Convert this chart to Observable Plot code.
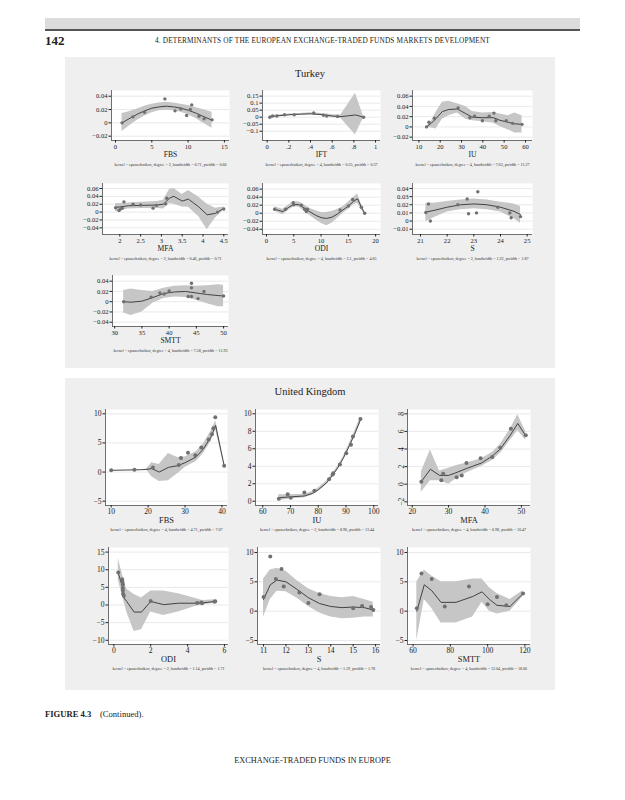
<!DOCTYPE html>
<html>
<head>
<meta charset="utf-8">
<script src="https://cdn.jsdelivr.net/npm/d3@7"></script>
<script src="https://cdn.jsdelivr.net/npm/@observablehq/plot@0.6"></script>
<style>
  html, body { margin: 0; padding: 0; background: #fff; }
  #page { position: relative; width: 625px; height: 800px; overflow: hidden; font-family: "Liberation Serif", "DejaVu Serif", serif; color: #222; }
  .abs { position: absolute; }
  .bg { position: absolute; background: #efefef; }
</style>
</head>
<body>
<div id="page">
  <div class="abs" style="left:45px;top:18px;width:535px;height:11px;background:#dcdcdc"></div>
  <div class="abs" style="left:45px;top:29px;width:535px;height:2px;background:#555"></div>
  <div class="abs" style="left:45px;top:33px;font-size:13px;font-weight:bold;">142</div>
  <div class="abs" style="left:0;width:625px;top:36px;text-align:center;font-size:7.3px;letter-spacing:0.15px;padding-left:10px;">4. DETERMINANTS OF THE EUROPEAN EXCHANGE-TRADED FUNDS MARKETS DEVELOPMENT</div>
  <div class="bg" style="left:65px;top:57px;width:490px;height:311px;"></div>
  <div class="abs" style="left:65px;width:490px;top:68px;text-align:center;font-size:10.5px;">Turkey</div>
  <div class="bg" style="left:65px;top:378px;width:490px;height:312px;"></div>
  <div class="abs" style="left:65px;width:490px;top:386px;text-align:center;font-size:10.5px;">United Kingdom</div>
  <div class="abs" style="left:45px;top:709px;font-size:8.6px;"><b>FIGURE 4.3</b>&nbsp;&nbsp;&nbsp;&nbsp;(Continued).</div>
  <div class="abs" style="left:0;width:625px;top:756px;text-align:center;font-size:8.3px;">EXCHANGE-TRADED FUNDS IN EUROPE</div>
</div>
<script>
// ---------- Turkey ----------
const tFbsPx = [0.9, 2.4, 4.0, 6.8, 8.2, 9.0, 9.8, 10.3, 10.5, 11.5, 12.2, 13.3];
const tFbsPy = [0.000, 0.009, 0.016, 0.036, 0.018, 0.021, 0.011, 0.020, 0.027, 0.010, 0.006, 0.0045];
const tFbsFx = [0.9, 2, 3, 4, 5, 6, 7, 8, 9, 10, 11, 12, 13.3];
const tFbsFit = [0.000, 0.007, 0.013, 0.018, 0.022, 0.024, 0.025, 0.024, 0.022, 0.019, 0.015, 0.010, 0.004];
const tFbsLo = [-0.013, -0.004, 0.004, 0.010, 0.015, 0.018, 0.019, 0.018, 0.016, 0.012, 0.007, 0.000, -0.008];
const tFbsHi = [0.014, 0.017, 0.021, 0.025, 0.028, 0.030, 0.031, 0.030, 0.028, 0.026, 0.023, 0.020, 0.016];

const tIftPx = [0.025, 0.05, 0.09, 0.16, 0.25, 0.43, 0.52, 0.55, 0.65, 0.89];
const tIftPy = [0.000, 0.008, 0.008, 0.017, 0.017, 0.030, 0.014, 0.008, 0.005, 0.000];
const tIftFx = [0.025, 0.1, 0.2, 0.3, 0.4, 0.5, 0.6, 0.68, 0.75, 0.815, 0.89];
const tIftFit = [0.003, 0.010, 0.017, 0.021, 0.024, 0.019, 0.008, 0.004, 0.010, 0.016, 0.000];
const tIftLo = [-0.005, 0.004, 0.011, 0.015, 0.017, 0.011, -0.002, -0.008, -0.069, -0.125, -0.004];
const tIftHi = [0.011, 0.016, 0.023, 0.027, 0.031, 0.027, 0.018, 0.016, 0.095, 0.170, 0.004];

const tIuPx = [13.6, 14.7, 17.3, 28.4, 33.9, 36.1, 39.8, 43.0, 45.2, 46.1, 51.0, 54.0, 58.4];
const tIuPy = [0.000, 0.009, 0.017, 0.037, 0.018, 0.021, 0.012, 0.021, 0.027, 0.012, 0.012, 0.007, 0.005];
const tIuFx = [13.6, 16, 18, 21, 24, 28, 32, 35, 40, 45, 48, 52, 55, 58.4];
const tIuFit = [0.000, 0.008, 0.016, 0.030, 0.034, 0.035, 0.026, 0.019, 0.018, 0.018, 0.013, 0.009, 0.006, 0.005];
const tIuLo = [0.000, -0.002, -0.004, 0.015, 0.022, 0.027, 0.015, 0.012, 0.010, 0.007, 0.001, -0.006, -0.012, -0.012];
const tIuHi = [0.000, 0.012, 0.028, 0.048, 0.050, 0.045, 0.040, 0.030, 0.027, 0.028, 0.025, 0.022, 0.027, 0.022];

const tMfaPx = [1.9, 1.98, 2.02, 2.06, 2.1, 2.32, 2.5, 2.8, 2.88, 3.1, 3.13, 4.35, 4.5];
const tMfaPy = [0.011, 0.004, 0.008, 0.010, 0.026, 0.020, 0.018, 0.010, 0.017, 0.021, 0.035, 0.000, 0.008];
const tMfaFx = [1.9, 2.0, 2.2, 2.5, 2.9, 3.05, 3.2, 3.3, 3.5, 3.65, 3.9, 4.1, 4.3, 4.5];
const tMfaFit = [0.012, 0.013, 0.016, 0.017, 0.018, 0.020, 0.036, 0.040, 0.028, 0.033, 0.013, -0.007, -0.003, 0.009];
const tMfaLo = [0.000, 0.004, 0.008, 0.009, 0.009, 0.008, 0.022, 0.020, 0.013, 0.012, -0.012, -0.045, -0.015, 0.005];
const tMfaHi = [0.022, 0.022, 0.023, 0.025, 0.027, 0.030, 0.058, 0.060, 0.045, 0.055, 0.038, 0.020, 0.010, 0.013];

const tOdiPx = [1.5, 3.5, 4.9, 5.0, 6.4, 7.0, 7.3, 7.5, 13.5, 15.0, 15.8, 17.4, 18.0];
const tOdiPy = [0.010, 0.010, 0.026, 0.021, 0.020, 0.010, 0.004, 0.010, 0.008, 0.018, 0.034, 0.015, 0.000];
const tOdiFx = [1.5, 3, 4, 5, 6, 7, 8, 9, 10, 11, 12, 13, 14, 15, 16, 16.7, 17.4, 18];
const tOdiFit = [0.010, 0.004, 0.014, 0.022, 0.021, 0.012, 0.003, -0.005, -0.011, -0.013, -0.010, -0.002, 0.008, 0.018, 0.030, 0.036, 0.015, 0.000];
const tOdiLo = [0.005, -0.004, 0.007, 0.016, 0.015, 0.004, -0.006, -0.016, -0.025, -0.031, -0.025, -0.013, -0.001, 0.009, 0.021, 0.025, 0.008, -0.002];
const tOdiHi = [0.016, 0.010, 0.020, 0.029, 0.028, 0.020, 0.012, 0.006, 0.002, 0.002, 0.004, 0.009, 0.016, 0.027, 0.040, 0.048, 0.022, 0.002];

const tSPx = [21.2, 21.3, 21.37, 22.4, 22.75, 22.8, 23.1, 23.15, 23.9, 24.35, 24.4, 24.75];
const tSPy = [0.0105, 0.021, 0.000, 0.020, 0.027, 0.009, 0.010, 0.036, 0.017, 0.010, 0.004, 0.0055];
const tSFx = [21.2, 21.5, 22, 22.5, 23, 23.5, 24, 24.5, 24.75];
const tSFit = [0.011, 0.013, 0.017, 0.020, 0.021, 0.020, 0.017, 0.012, 0.008];
const tSLo = [-0.001, 0.004, 0.011, 0.014, 0.015, 0.014, 0.011, 0.003, -0.003];
const tSHi = [0.022, 0.022, 0.024, 0.026, 0.027, 0.026, 0.023, 0.021, 0.018];

const tSmttPx = [31.65, 36.7, 38.3, 39.1, 40.0, 43.5, 44.1, 44.1, 44.1, 45.3, 46.4, 50.0];
const tSmttPy = [0.000, 0.009, 0.017, 0.015, 0.021, 0.010, 0.010, 0.036, 0.027, 0.006, 0.020, 0.011];
const tSmttFx = [31.65, 33, 35, 37, 39, 41, 43, 45, 47, 49, 50];
const tSmttFit = [0.000, -0.001, 0.001, 0.008, 0.016, 0.019, 0.020, 0.017, 0.014, 0.012, 0.011];
const tSmttLo = [-0.022, -0.027, -0.020, -0.003, 0.006, 0.009, 0.008, 0.003, -0.004, -0.010, -0.010];
const tSmttHi = [0.022, 0.025, 0.022, 0.020, 0.026, 0.030, 0.031, 0.030, 0.031, 0.033, 0.032];

// ---------- United Kingdom ----------
const uFbsPx = [10, 16.3, 21.3, 28.3, 28.9, 30.8, 32.8, 34.4, 36.4, 37.3, 37.7, 38.2, 40.6];
const uFbsPy = [0.3, 0.4, 0.8, 1.2, 2.4, 3.3, 2.9, 4.2, 5.6, 6.5, 7.5, 9.4, 1.1];
const uFbsFx = [10, 18, 19.5, 21, 23, 25.5, 28, 30, 33, 35, 37, 38.3, 40.6];
const uFbsFit = [0.3, 0.4, 0.45, 0.6, 0.0, 0.8, 1.1, 1.6, 2.6, 4.0, 6.0, 8.0, 1.1];
const uFbsLo = [0.3, 0.4, 0.4, -0.8, -1.6, -1.5, -0.3, 0.8, 1.8, 3.2, 5.2, 7.2, 1.0];
const uFbsHi = [0.3, 0.4, 0.5, 1.6, 1.3, 3.2, 2.5, 2.6, 3.5, 4.8, 7.0, 8.8, 1.2];

const uIuPx = [65.8, 69.0, 70.1, 75.0, 78.6, 83.9, 85.2, 85.4, 87.8, 90.1, 91.8, 92.5, 95.2];
const uIuPy = [0.27, 0.8, 0.4, 1.0, 1.2, 2.5, 3.05, 3.2, 4.2, 5.5, 6.45, 7.4, 9.4];
const uIuFx = [65.8, 70, 75, 78, 80, 83, 85, 87, 89, 91, 93, 95.2];
const uIuFit = [0.4, 0.5, 0.6, 0.9, 1.3, 2.1, 2.9, 3.8, 4.9, 6.2, 7.6, 9.3];
const uIuLo = [0.05, 0.25, 0.4, 0.7, 1.1, 1.9, 2.7, 3.6, 4.7, 5.95, 7.3, 8.95];
const uIuHi = [0.75, 0.75, 0.8, 1.1, 1.5, 2.3, 3.1, 4.0, 5.1, 6.45, 7.9, 9.65];

const uMfaPx = [22.5, 28.0, 28.5, 32.2, 33.6, 34.9, 38.8, 42.0, 44.2, 47.1, 51.2];
const uMfaPy = [0.27, 0.45, 1.2, 0.8, 1.0, 2.4, 2.95, 3.1, 4.15, 6.3, 5.55];
const uMfaFx = [22.5, 25, 27.5, 30, 32, 35, 39, 42, 44.2, 47, 49, 51.2];
const uMfaFit = [0.3, 1.7, 1.0, 1.0, 1.3, 1.8, 2.4, 3.2, 4.0, 5.6, 6.9, 5.5];
const uMfaLo = [-0.9, 0.4, 0.4, 0.0, 0.6, 1.3, 2.0, 2.7, 3.5, 5.0, 6.1, 5.0];
const uMfaHi = [1.4, 3.9, 1.5, 1.8, 2.1, 2.4, 2.9, 3.6, 4.5, 6.3, 7.9, 6.0];

const uOdiPx = [0.24, 0.45, 0.47, 0.49, 0.49, 0.49, 0.5, 0.54, 2.0, 4.52, 4.74, 4.79, 5.46, 5.5];
const uOdiPy = [9.2, 7.3, 6.5, 5.8, 4.8, 4.1, 3.2, 2.6, 1.1, 0.6, 0.7, 0.5, 0.95, 1.05];
const uOdiFx = [0.24, 0.45, 0.55, 0.7, 1.1, 1.5, 2.0, 2.7, 3.5, 4.5, 4.8, 5.5];
const uOdiFit = [9.0, 5.5, 2.0, 1.0, -2.0, -2.0, 1.0, 0.1, 0.5, 0.5, 0.6, 1.0];
const uOdiLo = [7.0, 3.0, 1.0, -2.0, -7.5, -7.0, -2.0, -3.0, -2.0, -0.3, 0.0, 0.5];
const uOdiHi = [13.2, 9.0, 7.0, 4.5, 3.0, 2.0, 4.0, 4.0, 3.2, 1.8, 1.3, 1.5];

const uSPx = [11.0, 11.3, 11.55, 11.8, 11.9, 12.6, 13.0, 13.5, 15.0, 15.4, 15.8, 15.9];
const uSPy = [2.4, 9.3, 5.5, 7.2, 4.2, 3.2, 1.4, 2.9, 0.5, 0.9, 0.7, 0.2];
const uSFx = [11.0, 11.3, 11.6, 12.0, 12.5, 13.0, 13.5, 14.0, 14.5, 15.0, 15.5, 15.9];
const uSFit = [2.0, 4.5, 5.3, 5.0, 3.7, 2.3, 1.3, 0.8, 0.6, 0.7, 0.6, 0.2];
const uSLo = [-1.0, 2.0, 3.4, 3.3, 2.2, 0.8, -0.3, -1.0, -1.3, -1.2, -1.0, -1.0];
const uSHi = [5.5, 7.0, 7.3, 6.8, 5.2, 3.8, 3.0, 2.5, 2.3, 2.5, 2.0, 1.5];

const uSmttPx = [62, 64.5, 70, 77, 90, 100, 105, 110, 119];
const uSmttPy = [0.5, 6.4, 5.5, 0.8, 4.2, 1.2, 2.4, 1.0, 3.0];
const uSmttFx = [62, 66, 70, 75, 83, 92, 97, 101, 105, 112, 119];
const uSmttFit = [0.0, 4.5, 3.5, 1.5, 1.5, 2.5, 3.3, 2.0, 1.0, 0.8, 3.0];
const uSmttLo = [-5, 2, 0.5, -2, -2, -1, 1.5, 0, -0.5, 0, 2.5];
const uSmttHi = [5, 7, 6, 5, 5, 5.5, 5.5, 4, 3, 2, 3.5];

// ---------- helpers ----------
const num = d => d === 0 ? "0" : (d < 0 ? "\u2212" : "") + String(Math.abs(d));
const dotFmt = d => d === 0 ? "0" : d === 1 ? "1" : String(d).replace(/^0/, "");
const pts = (xs, ys) => xs.map((x, i) => ({x, y: ys[i]}));
const band = (xs, f, lo, hi) => xs.map((x, i) => ({x, y: f[i], lo: lo[i], hi: hi[i]}));

function panel(c) {
  const ml = 40, mr = 10, mt = 4, mb = 32;
  const svg = Plot.plot({
    width: c.w + ml + mr, height: c.h + mt + mb,
    marginLeft: ml, marginRight: mr, marginTop: mt, marginBottom: mb,
    x: {domain: c.xd}, y: {domain: c.yd},
    style: {fontFamily: "Liberation Serif, serif", fontSize: c.fs + "px", color: "#222", background: "transparent", overflow: "visible"},
    marks: [
      Plot.frame({fill: "white", stroke: "none"}),
      Plot.ruleY(c.yt, {stroke: "#e3e3e3", strokeWidth: 0.8}),
      Plot.areaY(c.band, {x: "x", y1: "lo", y2: "hi", fill: "#c6c6c6"}),
      Plot.line(c.band, {x: "x", y: "y", stroke: "#333", strokeWidth: 0.9}),
      Plot.dot(c.pts, {x: "x", y: "y", r: c.r, fill: "#707070", stroke: "none"}),
      Plot.ruleX([c.xd[0]], {stroke: "#333", strokeWidth: 0.7}),
      Plot.ruleY([c.yd[0]], {stroke: "#333", strokeWidth: 0.7}),
      Plot.axisX(c.xt, {tickFormat: c.xf || num, tickSize: 2.5, tickPadding: 1, label: null}),
      Plot.axisY(c.yt, {tickFormat: c.yf || num, tickSize: 2.5, tickPadding: 1.5, label: null, tickRotate: c.rot || 0}),
      Plot.text([c.label], {text: d => d, frameAnchor: "bottom", dy: c.ldy, fontSize: c.lfs, fill: "#222"}),
      Plot.text([c.note], {text: d => d, frameAnchor: "bottom", dy: c.ndy, fontSize: 4.1, fill: "#333"})
    ]
  });
  svg.style.position = "absolute";
  svg.style.left = (c.left - ml) + "px";
  svg.style.top = (c.top - mt) + "px";
  document.getElementById("page").appendChild(svg);
}

const note = (deg, bw, pw) => `kernel = epanechnikov, degree = ${deg}, bandwidth = ${bw}, pwidth = ${pw}`;
const T = {fs: 6.6, lfs: 7.6, r: 1.7, ldy: 16.5, ndy: 25.5};
const U = {fs: 7.6, lfs: 8.4, r: 2, ldy: 17.5, ndy: 25.5};

// Turkey row 1
panel({...T, left: 111, top: 90, w: 118, h: 50, xd: [-0.55, 15.7], yd: [-0.0265, 0.0486], xt: [0, 5, 10, 15], yt: [-0.02, 0, 0.02, 0.04],
  label: "FBS", note: note(2, "0.71", "0.66"), pts: pts(tFbsPx, tFbsPy), band: band(tFbsFx, tFbsFit, tFbsLo, tFbsHi)});
panel({...T, left: 262, top: 90, w: 118, h: 50, xd: [-0.043, 1.046], yd: [-0.166, 0.19], xt: [0, 0.2, 0.4, 0.6, 0.8, 1], yt: [-0.1, -0.05, 0, 0.05, 0.1, 0.15],
  xf: dotFmt, label: "IFT", note: note(4, "0.25", "0.37"), pts: pts(tIftPx, tIftPy), band: band(tIftFx, tIftFit, tIftLo, tIftHi)});
panel({...T, left: 412, top: 90, w: 120, h: 50, xd: [7.0, 63.3], yd: [-0.0265, 0.0711], xt: [10, 20, 30, 40, 50, 60], yt: [-0.02, 0, 0.02, 0.04, 0.06],
  label: "IU", note: note(4, "7.03", "11.27"), pts: pts(tIuPx, tIuPy), band: band(tIuFx, tIuFit, tIuLo, tIuHi)});
// Turkey row 2
panel({...T, left: 102, top: 183, w: 126, h: 51, xd: [1.584, 4.613], yd: [-0.057, 0.0727], xt: [2, 2.5, 3, 3.5, 4, 4.5], yt: [-0.04, -0.02, 0, 0.02, 0.04, 0.06],
  label: "MFA", note: note(2, "0.46", "0.71"), pts: pts(tMfaPx, tMfaPy), band: band(tMfaFx, tMfaFit, tMfaLo, tMfaHi)});
panel({...T, left: 262, top: 183, w: 118, h: 51, xd: [-0.73, 20.9], yd: [-0.053, 0.074], xt: [0, 5, 10, 15, 20], yt: [-0.04, -0.02, 0, 0.02, 0.04, 0.06],
  label: "ODI", note: note(4, "3.1", "4.65"), pts: pts(tOdiPx, tOdiPy), band: band(tOdiFx, tOdiFit, tOdiLo, tOdiHi)});
panel({...T, left: 412, top: 183, w: 120, h: 51, xd: [20.7, 25.2], yd: [-0.0165, 0.0461], xt: [21, 22, 23, 24, 25], yt: [-0.01, 0, 0.01, 0.02, 0.03, 0.04],
  label: "S", note: note(2, "1.22", "1.87"), pts: pts(tSPx, tSPy), band: band(tSFx, tSFit, tSLo, tSHi)});
// Turkey row 3
panel({...T, left: 112, top: 275, w: 116, h: 51, xd: [29.6, 50.9], yd: [-0.0484, 0.0511], xt: [30, 35, 40, 45, 50], yt: [-0.04, -0.02, 0, 0.02, 0.04],
  label: "SMTT", note: note(4, "7.58", "11.93"), pts: pts(tSmttPx, tSmttPy), band: band(tSmttFx, tSmttFit, tSmttLo, tSmttHi)});

// UK row 1
panel({...U, left: 105, top: 409, w: 122, h: 96, xd: [8.46, 41.5], yd: [-5.74, 10.74], xt: [10, 20, 30, 40], yt: [-5, 0, 5, 10],
  label: "FBS", note: note(4, "4.71", "7.07"), pts: pts(uFbsPx, uFbsPy), band: band(uFbsFx, uFbsFit, uFbsLo, uFbsHi)});
panel({...U, left: 255, top: 409, w: 123, h: 96, xd: [57.4, 101.7], yd: [-0.49, 10.49], xt: [60, 70, 80, 90, 100], yt: [0, 2, 4, 6, 8, 10],
  label: "IU", note: note(2, "8.96", "13.44"), pts: pts(uIuPx, uIuPy), band: band(uIuFx, uIuFit, uIuLo, uIuHi)});
panel({...U, left: 407, top: 409, w: 123, h: 96, xd: [18.7, 52.5], yd: [-2.42, 8.49], xt: [20, 30, 40, 50], yt: [-2, 0, 2, 4, 6, 8], rot: -90,
  label: "MFA", note: note(4, "6.98", "10.47"), pts: pts(uMfaPx, uMfaPy), band: band(uMfaFx, uMfaFit, uMfaLo, uMfaHi)});
// UK row 2
panel({...U, left: 108, top: 547, w: 120, h: 97, xd: [-0.29, 6.22], yd: [-11.2, 16.3], xt: [0, 2, 4, 6], yt: [-10, -5, 0, 5, 10, 15],
  label: "ODI", note: note(2, "1.14", "1.71"), pts: pts(uOdiPx, uOdiPy), band: band(uOdiFx, uOdiFit, uOdiLo, uOdiHi)});
panel({...U, left: 257, top: 547, w: 123, h: 97, xd: [10.73, 16.22], yd: [-5.68, 10.85], xt: [11, 12, 13, 14, 15, 16], yt: [-5, 0, 5, 10],
  label: "S", note: note(4, "1.19", "1.78"), pts: pts(uSPx, uSPy), band: band(uSFx, uSFit, uSLo, uSHi)});
panel({...U, left: 407, top: 547, w: 123, h: 97, xd: [57, 123], yd: [-5.68, 10.85], xt: [60, 80, 100, 120], yt: [-5, 0, 5, 10],
  label: "SMTT", note: note(4, "12.04", "18.06"), pts: pts(uSmttPx, uSmttPy), band: band(uSmttFx, uSmttFit, uSmttLo, uSmttHi)});
</script>
</body>
</html>
